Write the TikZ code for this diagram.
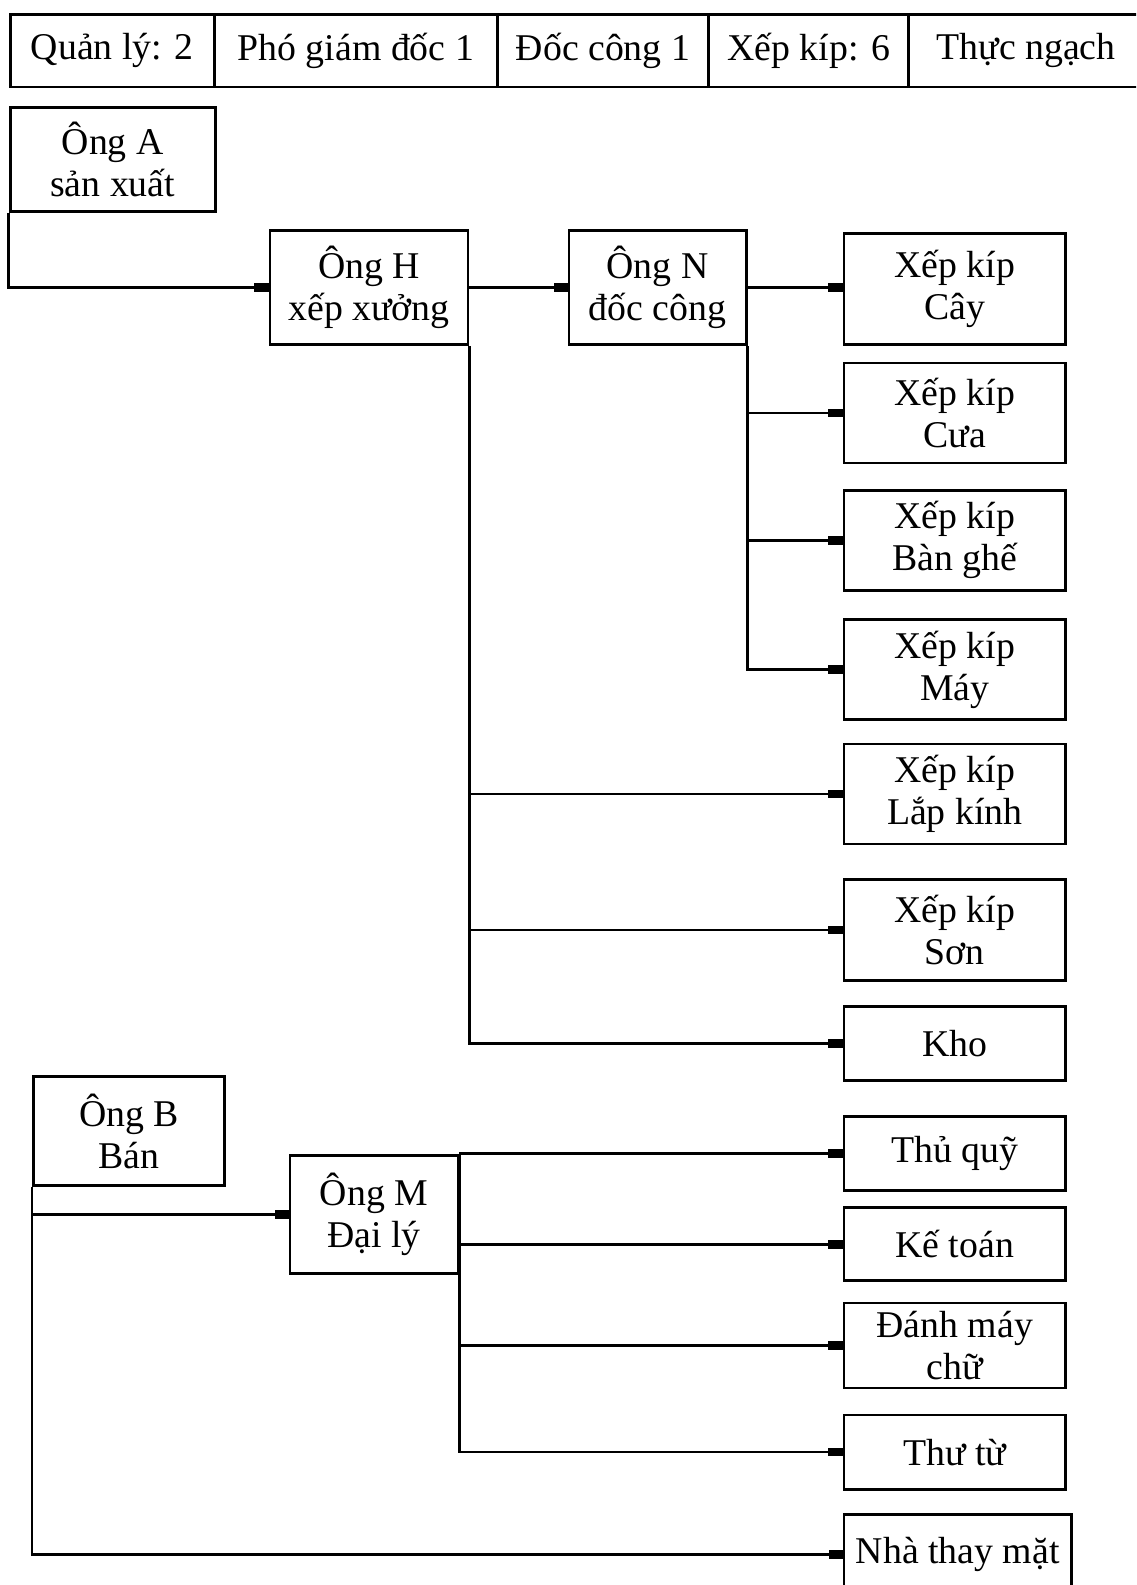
\documentclass[tikz,border=0pt]{standalone}
\usepackage{fontspec}
\setmainfont{Liberation Serif}
\usetikzlibrary{arrows.meta}
\tikzset{every node/.style={shape=rectangle, draw = black, line width = 1.6pt, align = center, inner sep = 0pt, font = \fontsize{21.5}{24}\selectfont}}
\tikzset{cell/.style={minimum height = 1.455cm}}
\tikzset{box/.style={minimum width = 4.43cm, minimum height = 2cm}}
\tikzset{link/.style={draw = black, line width = 1.6pt, -{Rectangle[length = 8pt, width = 5pt]}}}

\begin{document}
\begin{tikzpicture}[x = 0.2021mm, y = -0.2021mm]
  \clip (0,0) rectangle (1124,1568);
  \fill[white] (0,0) rectangle (1124,1568);

  \node (Q1) [cell, minimum width = 4.08cm] at (111,50) {Quản lý: 2};
  \node (Q2) [cell, minimum width = 5.66cm] at (352,50) {Phó giám đốc 1};
  \node (Q3) [cell, minimum width = 4.22cm] at (596.5,50) {Đốc công 1};
  \node (Q4) [cell, minimum width = 4.00cm] at (800,50) {Xếp kíp: 6};
  \node (Q5) [cell, minimum width = 4.69cm] at (1015,50) {Thực ngạch};

  \node (A) [minimum width = 4.10cm, minimum height = 2.08cm] at (111.5,157.5) {Ông A\\sản xuất};
  \node (H) [minimum width = 3.96cm, minimum height = 2.28cm] at (365,284.5) {Ông H\\xếp xưởng};
  \node (N) [minimum width = 3.54cm, minimum height = 2.28cm] at (650.5,284.5) {Ông N\\đốc công};

  \node (Cay) [box, minimum height = 2.22cm] at (944.5,286) {Xếp kíp\\Cây};
  \node (Cua) [box] at (944.5,408.5) {Xếp kíp\\Cưa};
  \node (Ban) [box] at (944.5,534.5) {Xếp kíp\\Bàn ghế};
  \node (May) [box] at (944.5,662.5) {Xếp kíp\\Máy};
  \node (Lap) [box] at (944.5,785.5) {Xếp kíp\\Lắp kính};
  \node (Son) [box, minimum height = 2.02cm] at (944.5,920) {Xếp kíp\\Sơn};
  \node (Kho) [box, minimum height = 1.48cm] at (944.5,1032.5) {Kho};

  \node (B) [minimum width = 3.82cm, minimum height = 2.18cm] at (127.5,1119) {Ông B\\Bán};
  \node (M) [minimum width = 3.36cm, minimum height = 2.37cm] at (370,1201.5) {Ông M\\Đại lý};

  \node (Quy) [box, minimum height = 1.48cm] at (944.5,1141.5) {Thủ quỹ};
  \node (Ke) [box, minimum height = 1.46cm] at (944.5,1231) {Kế toán};
  \node (Danh) [box, minimum height = 1.70cm] at (944.5,1331) {Đánh máy\\chữ};
  \node (Thu) [box, minimum height = 1.48cm] at (944.5,1436.5) {Thư từ};
  \node (Nha) [box, minimum width = 4.55cm, minimum height = 1.62cm] at (947.5,1538) {Nhà thay mặt};

  \draw[link] (A.south west) |- (H.west);
  \draw[link] (H.east) -- (N.west);
  \draw[link] (N.east) -- (N.east -| Cay.west);
  \draw[link] (N.south east) |- (Cua.west);
  \draw[link] (N.south east) |- (Ban.west);
  \draw[link] (N.south east) |- (May.west);
  \draw[link] (H.south east) |- (Lap.west);
  \draw[link] (H.south east) |- (Son.west);
  \draw[link] (H.south east) |- (Kho.west);

  \draw[link] (B.south west) |- (M.west);
  \draw[link] (B.south west) |- (Nha.west);
  \draw[link] (M.north east) -- (M.north east -| Quy.west);
  \draw[link] (M.north east) |- (Ke.west);
  \draw[link] (M.north east) |- (Danh.west);
  \draw[link] (M.north east) |- (Thu.west);
\end{tikzpicture}
\end{document}
